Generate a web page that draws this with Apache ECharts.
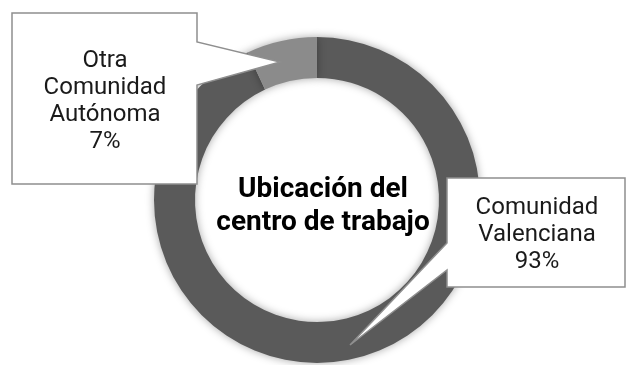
<!DOCTYPE html>
<html>
<head>
<meta charset="utf-8">
<script src="https://cdn.jsdelivr.net/npm/echarts@6/dist/echarts.min.js"></script>
<style>
  html, body { margin: 0; padding: 0; background: #fff; }
  #chart { width: 626px; height: 365px; }
</style>
</head>
<body>
<div id="chart"></div>
<script>
// datos del gráfico
const categorias = ["Comunidad Valenciana", "Otra Comunidad Autónoma"];
const porcentajes = [93, 7];
const colores = ["#5a5a5a", "#8b8b8b"];
const titulo = "Ubicación del\ncentro de trabajo";

// posición del texto dentro de cada recuadro
const posEtiquetas = [
  { x: 537, y: 235 },
  { x: 105, y: 101 }
];

const chart = echarts.init(document.getElementById("chart"));

const datos = categorias.map((nombre, i) => ({
  name: nombre,
  value: porcentajes[i],
  itemStyle: { color: colores[i] }
}));

const option = {
  backgroundColor: "#ffffff",
  animation: false,
  title: {
    text: titulo,
    left: 318,
    top: 168,
    textAlign: "center",
    textStyle: {
      fontFamily: "Roboto",
      fontWeight: "bold",
      fontSize: 28,
      lineHeight: 33,
      color: "#000"
    }
  },
  // recuadros de las llamadas
  graphic: [
    {
      type: "polygon",
      z: 5,
      shape: { points: [[12, 13], [197, 13], [197, 42], [280, 62], [197, 85], [197, 184], [12, 184]] },
      style: { fill: "#fff", stroke: "#8f8f8f", lineWidth: 1.5 }
    },
    {
      type: "polygon",
      z: 5,
      shape: { points: [[447, 178], [625, 178], [625, 287], [447, 287], [447, 270], [350, 345], [447, 243]] },
      style: { fill: "#fff", stroke: "#8f8f8f", lineWidth: 1.5 }
    }
  ],
  series: [
    {
      type: "pie",
      z: 2,
      center: [317, 200],
      radius: [122, 163],
      startAngle: 90,
      silent: true,
      label: { show: false },
      labelLine: { show: false },
      itemStyle: { shadowBlur: 8, shadowColor: "rgba(0,0,0,0.35)" },
      data: datos
    },
    {
      // solo etiquetas, por encima de los recuadros
      type: "pie",
      z: 10,
      center: [317, 200],
      radius: [122, 163],
      startAngle: 90,
      silent: true,
      itemStyle: { color: "rgba(0,0,0,0)" },
      label: {
        show: true,
        formatter: function (p) {
          return p.name.split(" ").join("\n") + "\n" + p.value + "%";
        },
        fontFamily: "Roboto",
        fontSize: 24,
        lineHeight: 27,
        color: "#1a1a1a",
        align: "center"
      },
      labelLine: { show: false },
      labelLayout: function (params) {
        const p = posEtiquetas[params.dataIndex];
        return { x: p.x, y: p.y, align: "center", verticalAlign: "middle" };
      },
      data: categorias.map((nombre, i) => ({ name: nombre, value: porcentajes[i] }))
    }
  ]
};

chart.setOption(option);
</script>
</body>
</html>
